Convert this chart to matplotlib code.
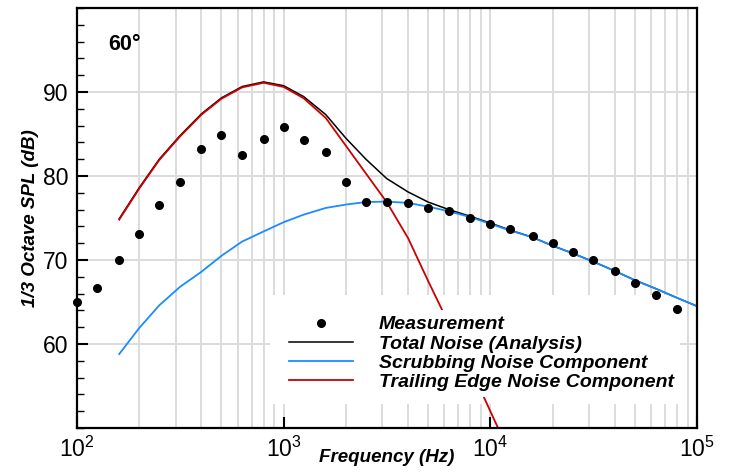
import matplotlib
matplotlib.use("Agg")
from matplotlib import pyplot as plt
from matplotlib.ticker import FixedLocator, MultipleLocator, NullLocator, FixedFormatter
from matplotlib.patches import Rectangle

# 1/3 octave band centres
freq_meas = [100, 125, 160, 200, 250, 315, 400, 500, 630, 800, 1000, 1250, 1600, 2000, 2500,
             3150, 4000, 5000, 6300, 8000, 10000, 12500, 16000, 20000, 25000, 31500, 40000,
             50000, 63000, 80000]
spl_meas = [65.0, 66.7, 70.0, 73.1, 76.6, 79.3, 83.2, 84.9, 82.5, 84.4, 85.8, 84.3, 82.8, 79.3, 76.9,
            76.9, 76.8, 76.2, 75.8, 75.0, 74.3, 73.7, 72.9, 72.0, 70.9, 70.0, 68.7,
            67.3, 65.8, 64.2]

freq_calc = [160, 200, 250, 315, 400, 500, 630, 800, 1000, 1250, 1600, 2000, 2500, 3150, 4000,
             5000, 6300, 8000, 10000, 12500, 16000, 20000, 25000, 31500, 40000, 50000, 63000,
             80000, 100000]
spl_total = [74.9, 78.6, 82.0, 84.8, 87.4, 89.3, 90.65, 91.2, 90.75, 89.45, 87.3, 84.5, 82.0, 79.7, 78.1,
             76.9, 76.0, 75.2, 74.4, 73.55, 72.7, 71.7, 70.8, 69.8, 68.7, 67.6, 66.6,
             65.5, 64.5]
spl_scrub = [58.8, 61.9, 64.6, 66.8, 68.6, 70.5, 72.2, 73.4, 74.5, 75.4, 76.2, 76.6, 76.9, 76.95, 76.8,
             76.35, 75.8, 75.1, 74.3, 73.5, 72.7, 71.7, 70.8, 69.8, 68.7, 67.6, 66.6,
             65.5, 64.5]
freq_te = freq_calc[:20]
spl_te = [74.8, 78.5, 81.9, 84.7, 87.3, 89.2, 90.55, 91.1, 90.6, 89.25, 86.9, 83.6, 80.3, 76.9, 72.6,
          67.5, 62.4, 57.2, 52.0, 46.8]

labels = ["Measurement", "Total Noise (Analysis)", "Scrubbing Noise Component",
          "Trailing Edge Noise Component"]
xticks = [1e2, 1e3, 1e4, 1e5]
xticklabels = [r"$\mathregular{10^{2}}$", r"$\mathregular{10^{3}}$",
               r"$\mathregular{10^{4}}$", r"$\mathregular{10^{5}}$"]

plt.rcParams["font.family"] = ["Liberation Sans", "DejaVu Sans"]
plt.rcParams["mathtext.fontset"] = "custom"
plt.rcParams["mathtext.rm"] = "Liberation Sans"

fig = plt.figure(figsize=(7.3, 4.72), dpi=100)
ax = fig.add_axes([77 / 730, 44 / 472, 620 / 730, 420 / 472])

ax.set_xscale("log")
ax.set_xlim(1e2, 1e5)
ax.set_ylim(50, 100)

grid_col = "#dcdcdc"
for f in [m * 10 ** e for e in (2, 3, 4) for m in range(1, 10)][1:]:
    ax.axvline(f, color=grid_col, lw=1.4, zorder=0.5)
for v in [60, 70, 80, 90]:
    ax.axhline(v, color=grid_col, lw=1.4, zorder=0.5)

# blank area behind legend hides the grid
ax.add_patch(Rectangle((193 / 620, 24 / 420), 410 / 620, 109 / 420, transform=ax.transAxes,
                       facecolor="white", edgecolor="none", zorder=1))

ax.plot(freq_calc, spl_total, color="black", lw=1.1, zorder=2, label=labels[1])
ax.plot(freq_calc, spl_scrub, color="#1a8cff", lw=1.3, zorder=2.1, label=labels[2])
ax.plot(freq_te, spl_te, color="#cc0000", lw=1.3, zorder=2.2, label=labels[3])
ax.plot(freq_meas, spl_meas, "o", color="black", ms=5.5, zorder=6, label=labels[0],
        clip_on=False)

ax.xaxis.set_major_locator(FixedLocator(xticks))
ax.xaxis.set_major_formatter(FixedFormatter(xticklabels))
ax.xaxis.set_minor_locator(NullLocator())
ax.yaxis.set_major_locator(FixedLocator([60, 70, 80, 90]))
ax.yaxis.set_minor_locator(MultipleLocator(2))
ax.tick_params(axis="both", which="major", direction="in", length=8, width=1.5,
               labelsize=16.5, pad=6)
ax.tick_params(axis="y", which="minor", direction="in", length=5, width=1.0)
ax.tick_params(axis="x", which="major", pad=6)
for s in ax.spines.values():
    s.set_linewidth(1.6)
    s.set_zorder(4)

ax.set_xlabel("Frequency (Hz)", fontsize=13.5, fontweight="bold", style="italic", labelpad=-9)
ax.set_ylabel("1/3 Octave SPL (dB)", fontsize=13.5, fontweight="bold", style="italic", labelpad=3)

ax.text(141, 95.6, "60\u00b0", fontsize=15.5, fontweight="bold", va="center", ha="left")

h, l = ax.get_legend_handles_labels()
order = [3, 0, 1, 2]
leg = ax.legend([h[i] for i in order], [l[i] for i in order], loc="upper left",
                bbox_to_anchor=(0.333, 0.281), numpoints=1, frameon=True,
                prop={"size": 14, "weight": "bold", "style": "italic"},
                handlelength=3.3, handletextpad=1.3, labelspacing=0.08, borderpad=0.3,
                borderaxespad=0)
leg.get_frame().set_facecolor("white")
leg.get_frame().set_edgecolor("none")
leg.get_frame().set_alpha(1)
leg.set_zorder(5)

fig.savefig("out.png", dpi=100)
